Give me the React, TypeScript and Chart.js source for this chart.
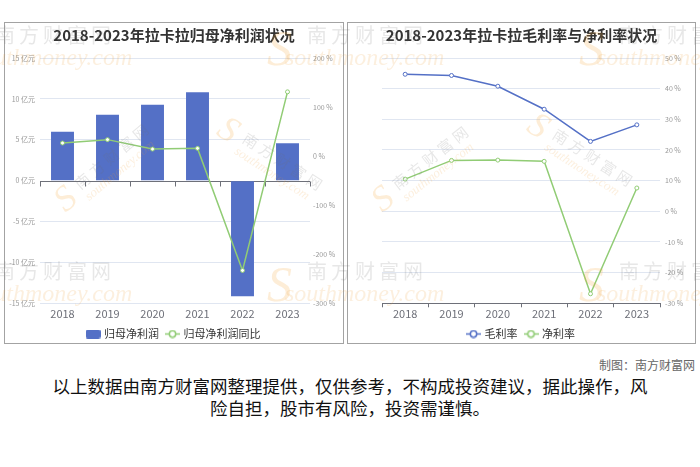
import React, { useEffect, useRef } from "react";
import { Chart, registerables } from "chart.js";

Chart.register(...registerables);

// ---------- data ----------
const years = ["2018", "2019", "2020", "2021", "2022", "2023"];
const netProfit = [5.98, 8.05, 9.28, 10.8, -14.15, 4.58]; // 亿元
const netProfitYoY = [26.7, 33.6, 14.4, 15.8, -233, 131]; // %
const grossMargin = [44.7, 44.3, 40.8, 33.3, 22.8, 28.2]; // %
const netMargin = [10.5, 16.6, 16.7, 16.3, -26.9, 7.6]; // %

const profitTicks = [-15, -10, -5, 0, 5, 10, 15];
const yoyTicks = [-300, -200, -100, 0, 100, 200];
const marginTicks = [-30, -20, -10, 0, 10, 20, 30, 40, 50];

const leftTitle = "2018-2023年拉卡拉归母净利润状况";
const rightTitle = "2018-2023年拉卡拉毛利率与净利率状况";
const leftSeries = ["归母净利润", "归母净利润同比"];
const rightSeries = ["毛利率", "净利率"];
const footerMaker = "制图：南方财富网";
const disclaimer1 = "以上数据由南方财富网整理提供，仅供参考，不构成投资建议，据此操作，风";
const disclaimer2 = "险自担，股市有风险，投资需谨慎。";

// ---------- styles ----------
const BLUE = "#5470c6";
const GREEN = "#91cc75";
const GRID = "#E0E6F1";
const AXIS = "#6E7079";
const FONT = '"Noto Sans CJK SC", "Noto Sans", sans-serif';

Chart.defaults.font.family = FONT;

function rectSymbol(color: string) {
  const c = document.createElement("canvas");
  c.width = 15;
  c.height = 9;
  const g = c.getContext("2d")!;
  g.fillStyle = color;
  g.beginPath();
  (g as any).roundRect(0, 0, 15, 9, 2);
  g.fill();
  return c;
}

function lineSymbol(color: string) {
  const c = document.createElement("canvas");
  c.width = 15;
  c.height = 9;
  const g = c.getContext("2d")!;
  g.strokeStyle = color;
  g.lineWidth = 1.5;
  g.beginPath();
  g.moveTo(0, 4.5);
  g.lineTo(15, 4.5);
  g.stroke();
  g.beginPath();
  g.arc(7.5, 4.5, 3.2, 0, Math.PI * 2);
  g.fillStyle = "#fff";
  g.fill();
  g.stroke();
  return c;
}

const zeroAxisPlugin = {
  id: "zeroAxis",
  beforeDatasetsDraw(chart: any) {
    const { ctx, chartArea, scales } = chart;
    const y = Math.round(scales.y.getPixelForValue(0)) + 0.5;
    const xs = scales.x;
    ctx.save();
    ctx.strokeStyle = AXIS;
    ctx.lineWidth = 1;
    ctx.beginPath();
    ctx.moveTo(chartArea.left, y);
    ctx.lineTo(chartArea.right, y);
    for (let i = 0; i <= years.length; i++) {
      const px = Math.round(xs.getPixelForValue(i - 0.5)) + 0.5;
      ctx.moveTo(px, y);
      ctx.lineTo(px, y + 5);
    }
    ctx.stroke();
    ctx.restore();
  },
};

function legendOpts(symbols: HTMLCanvasElement[]) {
  return {
    display: true,
    position: "bottom" as const,
    labels: {
      usePointStyle: true,
      pointStyleWidth: 11,
      padding: 8,
      color: "#333",
      font: { size: 11, family: FONT },
      generateLabels: (chart: any) =>
        chart.data.datasets.map((ds: any, i: number) => ({
          text: ds.label,
          fillStyle: "transparent",
          strokeStyle: "transparent",
          lineWidth: 0,
          hidden: !chart.isDatasetVisible(i),
          datasetIndex: i,
          pointStyle: symbols[i],
          fontColor: "#333",
        })),
    },
  };
}

function titleOpts(text: string) {
  return {
    display: true,
    text,
    color: "#333",
    font: { size: 15, weight: "bold" as const, family: FONT },
    padding: { top: 3, bottom: 14 },
  };
}

function LeftChart() {
  const ref = useRef<HTMLCanvasElement>(null);
  useEffect(() => {
    const chart = new Chart(ref.current!, {
      type: "bar",
      data: {
        labels: years,
        datasets: [
          {
            type: "bar",
            label: leftSeries[0],
            data: netProfit,
            backgroundColor: BLUE,
            yAxisID: "y",
            order: 2,
            categoryPercentage: 1,
            barPercentage: 0.51,
          } as any,
          {
            type: "line",
            label: leftSeries[1],
            data: netProfitYoY,
            borderColor: GREEN,
            backgroundColor: "#fff",
            borderWidth: 1.5,
            pointRadius: 2,
            pointBorderWidth: 1,
            pointBackgroundColor: "#fff",
            pointBorderColor: GREEN,
            yAxisID: "y1",
            order: 1,
            tension: 0,
          } as any,
        ],
      },
      options: {
        animation: false,
        responsive: false,
        maintainAspectRatio: false,
        layout: { padding: { top: 0, left: 0, right: 0, bottom: 3.5 } },
        plugins: {
          title: titleOpts(leftTitle),
          legend: legendOpts([rectSymbol(BLUE), lineSymbol(GREEN)]) as any,
          tooltip: { enabled: false },
        },
        scales: {
          x: {
            grid: {
              display: true,
              drawOnChartArea: false,
              drawTicks: true,
              tickLength: 4,
              color: "rgba(0,0,0,0)",
              offset: true,
            },
            border: { display: false },
            ticks: { padding: 0, color: AXIS, font: { size: 11 } },
          },
          y: {
            position: "left",
            min: profitTicks[0],
            max: profitTicks[profitTicks.length - 1],
            afterBuildTicks: (s: any) => {
              s.ticks = profitTicks.map((v) => ({ value: v }));
            },
            ticks: {
              callback: (v: any) => v + " 亿元",
              padding: 5,
              color: "#999",
              font: { size: 7 },
            },
            grid: {
              color: (c: any) => (c.tick && c.tick.value === 0 ? "rgba(0,0,0,0)" : GRID),
              drawTicks: false,
            },
            border: { display: false },
            afterFit: (s: any) => {
              s.width = 35;
            },
          },
          y1: {
            position: "right",
            min: yoyTicks[0],
            max: yoyTicks[yoyTicks.length - 1],
            afterBuildTicks: (s: any) => {
              s.ticks = yoyTicks.map((v) => ({ value: v }));
            },
            ticks: {
              callback: (v: any) => v + " %",
              padding: 3,
              color: "#999",
              font: { size: 7 },
            },
            grid: { display: false, drawTicks: false },
            border: { display: false },
            afterFit: (s: any) => {
              s.width = 33;
            },
          },
        } as any,
      },
      plugins: [zeroAxisPlugin],
    });
    return () => chart.destroy();
  }, []);
  return <canvas ref={ref} width={338} height={330} style={{ display: "block" }} />;
}

function RightChart() {
  const ref = useRef<HTMLCanvasElement>(null);
  useEffect(() => {
    const lineDs = (label: string, data: number[], color: string) => ({
      label,
      data,
      borderColor: color,
      backgroundColor: "#fff",
      borderWidth: 1.5,
      pointRadius: 2,
      pointBorderWidth: 1,
      pointBackgroundColor: "#fff",
      pointBorderColor: color,
      tension: 0,
    });
    const chart = new Chart(ref.current!, {
      type: "line",
      data: {
        labels: years,
        datasets: [
          lineDs(rightSeries[0], grossMargin, BLUE),
          lineDs(rightSeries[1], netMargin, GREEN),
        ],
      },
      options: {
        animation: false,
        responsive: false,
        maintainAspectRatio: false,
        layout: { padding: { top: 0, left: 0, right: 0, bottom: 3.5 } },
        plugins: {
          title: titleOpts(rightTitle),
          legend: legendOpts([lineSymbol(BLUE), lineSymbol(GREEN)]) as any,
          tooltip: { enabled: false },
        },
        scales: {
          x: {
            offset: true,
            grid: {
              display: true,
              drawOnChartArea: false,
              drawTicks: true,
              tickLength: 4,
              color: AXIS,
              offset: true,
            },
            border: { display: true, color: AXIS },
            ticks: { padding: 0, color: AXIS, font: { size: 11 } },
          },
          spacer: {
            position: "left",
            display: true,
            ticks: { display: false },
            grid: { display: false, drawTicks: false },
            border: { display: false },
            afterFit: (s: any) => {
              s.width = 34;
            },
          },
          y: {
            position: "right",
            min: marginTicks[0],
            max: marginTicks[marginTicks.length - 1],
            afterBuildTicks: (s: any) => {
              s.ticks = marginTicks.map((v) => ({ value: v }));
            },
            ticks: {
              callback: (v: any) => v + " %",
              padding: 5,
              color: "#999",
              font: { size: 7 },
            },
            grid: { color: GRID, drawTicks: false },
            border: { display: false },
            afterFit: (s: any) => {
              s.width = 35;
            },
          },
        } as any,
      },
    });
    return () => chart.destroy();
  }, []);
  return <canvas ref={ref} width={347} height={330} style={{ display: "block" }} />;
}

const wmCN: React.CSSProperties = {
  position: "absolute",
  color: "rgba(110,110,110,0.17)",
  fontSize: 20,
  letterSpacing: 4,
  fontFamily: FONT,
  whiteSpace: "nowrap",
  lineHeight: "20px",
  pointerEvents: "none",
};
const wmEN: React.CSSProperties = {
  position: "absolute",
  color: "rgba(240,160,60,0.17)",
  fontSize: 24,
  fontStyle: "italic",
  fontFamily: '"Liberation Serif", serif',
  whiteSpace: "nowrap",
  lineHeight: "24px",
  pointerEvents: "none",
};
const wmS: React.CSSProperties = {
  position: "absolute",
  color: "rgba(245,165,55,0.2)",
  fontSize: 50,
  fontStyle: "italic",
  fontFamily: '"Liberation Serif", serif',
  lineHeight: "50px",
  pointerEvents: "none",
};

function Tile({ x, y }: { x: number; y: number }) {
  return (
    <>
      <div style={{ ...wmS, left: x - 40, top: y - 12 }}>S</div>
      <div style={{ ...wmCN, left: x, top: y - 10 }}>南方财富网</div>
      <div style={{ ...wmEN, left: x - 22, top: y + 10 }}>southmoney.com</div>
    </>
  );
}

function RotTile({ x, y, deg }: { x: number; y: number; deg: number }) {
  return (
    <div
      style={{
        position: "absolute",
        left: x,
        top: y,
        transform: `rotate(${deg}deg)`,
        transformOrigin: "0 0",
        pointerEvents: "none",
      }}
    >
      <div style={{ ...wmS, fontSize: 36, lineHeight: "36px", left: -26, top: -6 }}>S</div>
      <div style={{ ...wmCN, fontSize: 15, letterSpacing: 4, left: 0, top: 0 }}>南方财富网</div>
      <div style={{ ...wmEN, fontSize: 13, lineHeight: "14px", left: 0, top: 19 }}>southmoney.com</div>
    </div>
  );
}

export default function App() {
  return (
    <div
      style={{
        position: "absolute",
        left: 0,
        top: 0,
        width: 700,
        height: 467,
        background: "#fff",
        overflow: "hidden",
        fontFamily: FONT,
      }}
    >
      <div
        style={{
          position: "absolute",
          left: 4,
          top: 22,
          width: 338,
          height: 320,
          border: "1px solid #a3a3a3",
          overflow: "hidden",
        }}
      >
        <LeftChart />
      </div>
      <div
        style={{
          position: "absolute",
          left: 347,
          top: 22,
          width: 347,
          height: 320,
          border: "1px solid #a3a3a3",
          overflow: "hidden",
        }}
      >
        <RightChart />
      </div>

      <Tile x={-5} y={35} />
      <Tile x={307} y={35} />
      <Tile x={619} y={35} />
      <Tile x={-5} y={271} />
      <Tile x={307} y={271} />
      <Tile x={619} y={271} />
      <RotTile x={70} y={178} deg={-40} />
      <RotTile x={250} y={128} deg={33} />
      <RotTile x={388} y={178} deg={-38} />
      <RotTile x={560} y={124} deg={33} />

      <div
        style={{
          position: "absolute",
          right: 5,
          top: 357,
          fontSize: 12,
          lineHeight: "16px",
          color: "#666",
          whiteSpace: "nowrap",
        }}
      >
        {footerMaker}
      </div>
      <div
        style={{
          position: "absolute",
          left: 0,
          width: 700,
          top: 375,
          textAlign: "center",
          fontSize: 17.5,
          lineHeight: "22px",
          color: "#111",
        }}
      >
        {disclaimer1}
        <br />
        {disclaimer2}
      </div>
    </div>
  );
}
